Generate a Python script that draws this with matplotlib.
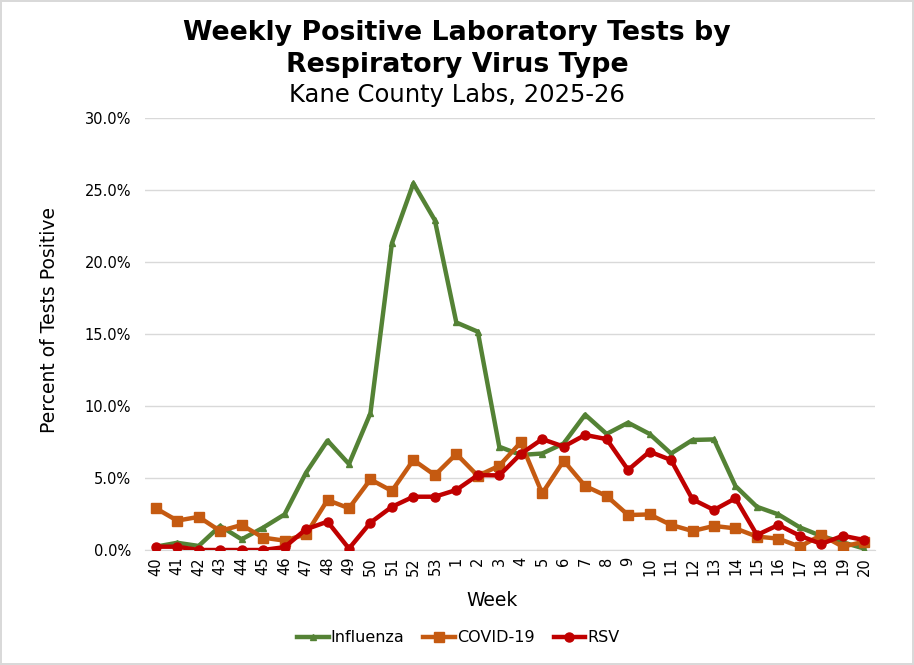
import matplotlib
matplotlib.use("Agg")
import matplotlib.pyplot as plt
from matplotlib.ticker import FuncFormatter, MultipleLocator

weeks = ["40","41","42","43","44","45","46","47","48","49","50","51","52","53",
         "1","2","3","4","5","6","7","8","9","10","11","12","13","14","15","16","17","18","19","20"]

influenza = [0.23, 0.5, 0.28, 1.67, 0.74, 1.55, 2.47, 5.37, 7.6, 5.97, 9.5, 21.3, 25.46, 22.9,
             15.8, 15.16, 7.17, 6.6, 6.7, 7.4, 9.4, 8.06, 8.84, 8.06, 6.7, 7.64, 7.68, 4.44,
             3.0, 2.47, 1.57, 0.97, 0.53, 0.1]
covid = [2.9, 2.04, 2.3, 1.32, 1.74, 0.86, 0.65, 1.09, 3.47, 2.9, 4.9, 4.1, 6.25, 5.2,
         6.67, 5.15, 5.85, 7.47, 3.93, 6.2, 4.44, 3.75, 2.43, 2.47, 1.74, 1.32, 1.67, 1.5,
         0.93, 0.79, 0.23, 1.04, 0.23, 0.58]
rsv = [0.23, 0.23, 0.0, 0.0, 0.0, 0.0, 0.2, 1.44, 1.97, 0.1, 1.9, 3.0, 3.7, 3.7,
       4.17, 5.2, 5.18, 6.67, 7.7, 7.18, 7.99, 7.7, 5.56, 6.83, 6.25, 3.52, 2.78, 3.59,
       1.04, 1.74, 0.99, 0.42, 0.99, 0.69]

W, H = 914, 665
fig = plt.figure(figsize=(W / 100, H / 100), dpi=100)
fig.patch.set_edgecolor("#D9D9D9")
fig.patch.set_linewidth(1.5)
ax = fig.add_axes([145 / W, 1 - 550 / H, 730 / W, 432 / H])

x = list(range(len(weeks)))
ax.plot(x, influenza, color="#548235", lw=3.2, marker="^", ms=5, label="Influenza", zorder=3)
ax.plot(x, covid, color="#C55A11", lw=3.2, marker="s", ms=6.5, label="COVID-19", zorder=3)
ax.plot(x, rsv, color="#C00000", lw=3.2, marker="o", ms=6.5, label="RSV", zorder=4)

ax.set_ylim(0, 30)
ax.set_xlim(-0.5, len(weeks) - 0.5)
ax.yaxis.set_major_locator(MultipleLocator(5))
ax.yaxis.set_major_formatter(FuncFormatter(lambda v, p: f"{v:.1f}%"))
ax.set_xticks(x)
ax.set_xticklabels(weeks, rotation=90)
ax.grid(axis="y", color="#D9D9D9", lw=1)
ax.set_axisbelow(True)
for s in ["top", "right", "left"]:
    ax.spines[s].set_visible(False)
ax.spines["bottom"].set_color("#D9D9D9")
ax.tick_params(axis="both", length=0, labelsize=10.5, colors="#000000")
ax.tick_params(axis="y", pad=10)
ax.tick_params(axis="x", pad=5)

fig.text(50 / W, 1 - 320 / H, "Percent of Tests Positive", rotation=90,
         ha="center", va="center", fontsize=13.5)
fig.text(492 / W, 1 - 600 / H, "Week", ha="center", va="center", fontsize=13.5)

fig.text(0.5, 1 - 40 / H, "Weekly Positive Laboratory Tests by",
         ha="center", va="baseline", fontsize=19.3, fontweight="bold")
fig.text(0.5, 1 - 72 / H, "Respiratory Virus Type",
         ha="center", va="baseline", fontsize=19.3, fontweight="bold")
fig.text(0.5, 1 - 102 / H, "Kane County Labs, 2025-26",
         ha="center", va="baseline", fontsize=17.5)

fig.legend(loc="center", bbox_to_anchor=(458 / W, 1 - 638 / H), ncol=3, frameon=False,
           fontsize=11.5, handlelength=2.0, handletextpad=0.1, columnspacing=1.2)

fig.savefig("out.png", dpi=100, edgecolor=fig.get_edgecolor())
